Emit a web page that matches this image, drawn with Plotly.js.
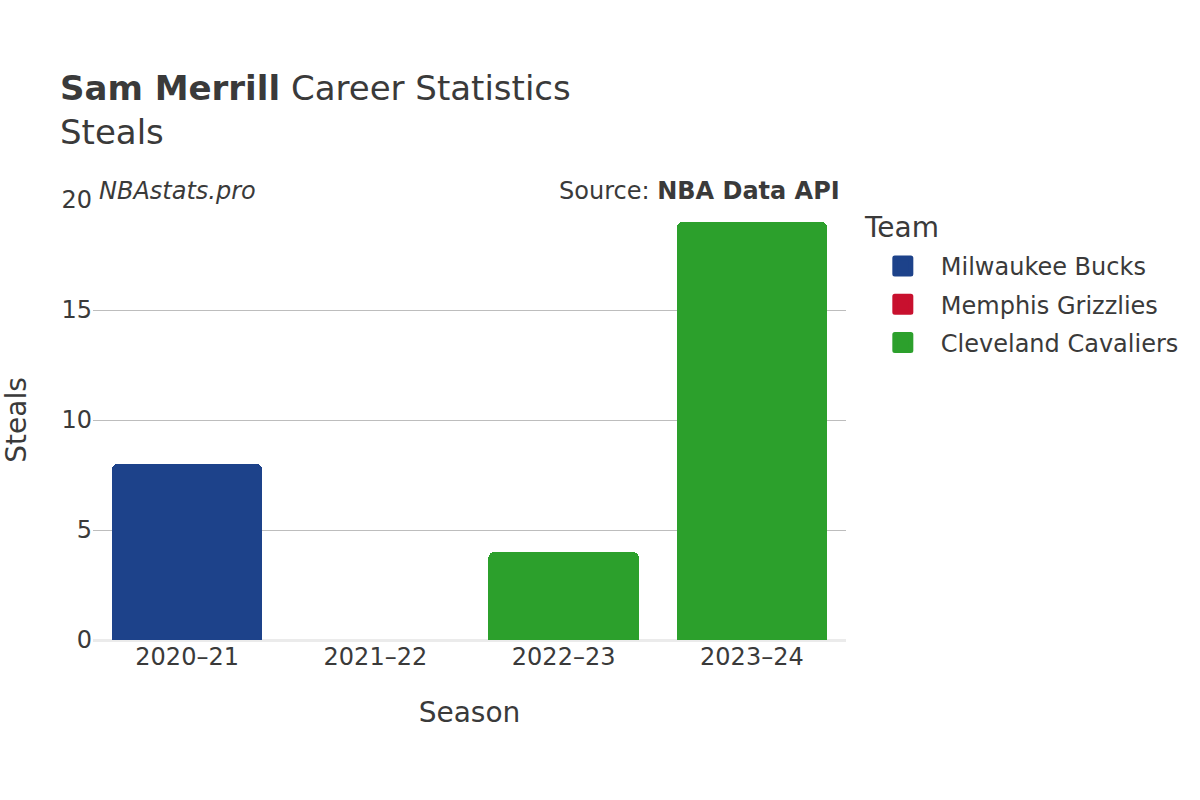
<!DOCTYPE html>
<html>
<head>
<meta charset="utf-8">
<script src="https://cdn.plot.ly/plotly-3.0.1.min.js"></script>
<style>body{margin:0;padding:0;} #chart{width:1200px;height:800px;} .legendpoints path{stroke-linejoin:round;}</style>
</head>
<body>
<div id="chart"></div>
<script>
const seasons = ["2020–21", "2021–22", "2022–23", "2023–24"];
const teams = ["Milwaukee Bucks", "Memphis Grizzlies", "Cleveland Cavaliers"];
const teamColors = ["#1d428a", "#c8102e", "#2ca02c"];
const bucksSeasons = ["2020–21"];
const bucksSteals = [8];
const grizzliesSeasons = ["2021–22"];
const grizzliesSteals = [0];
const cavsSeasons = ["2022–23", "2023–24"];
const cavsSteals = [4, 19];
const yTicks = [0, 5, 10, 15, 20];

const font = "DejaVu Sans, sans-serif";
const barData = [[bucksSeasons, bucksSteals], [grizzliesSeasons, grizzliesSteals], [cavsSeasons, cavsSteals]];
const traces = [];
barData.forEach((d, i) => {
  traces.push({x: d[0], y: d[1], name: teams[i], type: "bar", marker: {color: teamColors[i]}, showlegend: false});
});
teams.forEach((t, i) => {
  traces.push({x: [seasons[0]], y: [null], name: t, type: "scatter", mode: "markers",
    legendgroup: "g" + i,
    marker: {color: teamColors[i], symbol: "square", size: 16, line: {color: teamColors[i], width: 6}},
    showlegend: true, hoverinfo: "skip"});
});

const layout = {
  width: 1200, height: 800,
  margin: {l: 93, r: 354, t: 200, b: 160},
  paper_bgcolor: "#fff", plot_bgcolor: "#fff",
  font: {family: font, color: "#3a3a3a", size: 24},
  barmode: "stack",
  bargap: 0.2,
  barcornerradius: 6,
  title: {
    text: "<b>Sam Merrill</b> Career Statistics<br>Steals",
    x: 0.05, xanchor: "left", y: 0.875, yanchor: "top",
    font: {family: font, size: 34, color: "#3a3a3a"}
  },
  xaxis: {
    categoryorder: "array", categoryarray: seasons,
    title: {text: "Season", font: {size: 28}, standoff: 32},
    tickfont: {size: 24},
    showgrid: false, zeroline: false, showline: false, ticks: ""
  },
  yaxis: {
    range: [0, 20], tickvals: yTicks,
    title: {text: "Steals", font: {size: 28}, standoff: 30},
    tickfont: {size: 24},
    showgrid: true, gridcolor: "#bdbdbd", gridwidth: 1,
    zeroline: true, zerolinecolor: "#ebebeb", zerolinewidth: 3,
    showline: false, ticks: ""
  },
  legend: {
    x: 1.025, xanchor: "left", y: 0.900, yanchor: "top",
    font: {size: 24},
    traceorder: "grouped",
    itemsizing: "trace",
    itemwidth: 66,
    tracegroupgap: 4
  },
  annotations: [
    {text: "<i>NBAstats.pro</i>", xref: "paper", yref: "paper", x: 0.005, y: 1.0, xanchor: "left", yanchor: "bottom", yshift: -7, showarrow: false, font: {size: 24, color: "#3a3a3a"}},
    {text: "Source: <b>NBA Data API</b>", xref: "paper", yref: "paper", x: 0.995, y: 1.0, xanchor: "right", yanchor: "bottom", yshift: -7, showarrow: false, font: {size: 24, color: "#3a3a3a"}},
    {text: "Team", xref: "paper", yref: "paper", x: 1.021, y: 0.9386, xanchor: "left", yanchor: "middle", showarrow: false, font: {size: 28, color: "#3a3a3a"}}
  ]
};

Plotly.newPlot("chart", traces, layout, {displayModeBar: false, staticPlot: true});
</script>
</body>
</html>
